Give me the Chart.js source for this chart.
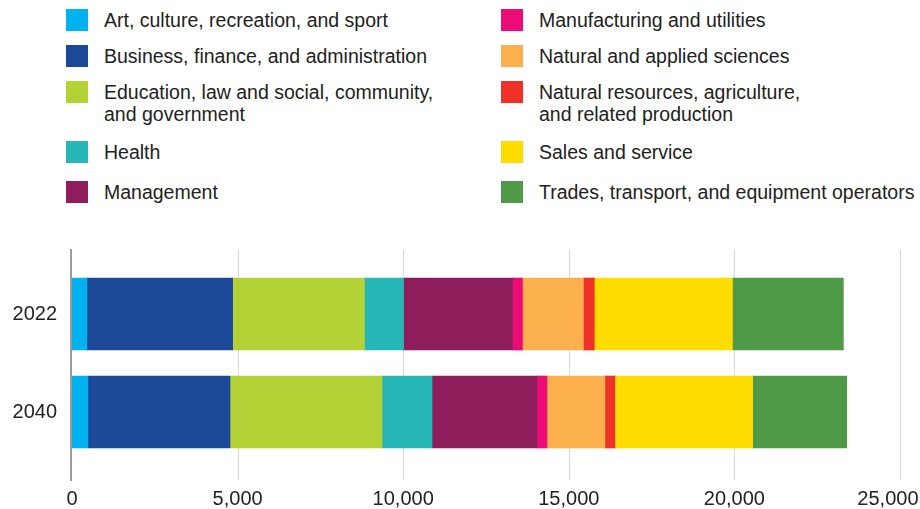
<!DOCTYPE html>
<html>
<head>
<meta charset="utf-8">
<script src="https://cdn.jsdelivr.net/npm/chart.js@4/dist/chart.umd.min.js"></script>
<style>
  html, body { margin: 0; padding: 0; background: #fff; overflow: hidden; }
  body { width: 920px; height: 509px; position: relative; font-family: 'Liberation Sans', Arial, sans-serif; color: #222; }
  #legend {
    position: absolute; left: 66px; top: 9px;
    display: grid;
    grid-auto-flow: column;
    grid-template-columns: 435px auto;
    grid-template-rows: 36px 36px 60px 40px 30px;
  }
  .item { display: flex; align-items: flex-start; }
  .swatch { width: 22px; height: 22px; flex: none; margin-right: 16px; }
  .txt { font-size: 19.5px; line-height: 22px; white-space: pre-line; }
  #chart { position: absolute; left: 0; top: 230px; display: block; }
</style>
</head>
<body>
<div id="legend"></div>
<canvas id="chart" width="920" height="279" style="width:920px;height:279px"></canvas>
<script>
// Datos (trabajadores por grupo ocupacional)
const years = ['2022', '2040'];
const occupations = [
  'Art, culture, recreation, and sport',
  'Business, finance, and administration',
  'Education, law and social, community,\nand government',
  'Health',
  'Management',
  'Manufacturing and utilities',
  'Natural and applied sciences',
  'Natural resources, agriculture,\nand related production',
  'Sales and service',
  'Trades, transport, and equipment operators'
];
const values2022 = [450, 4400, 3980, 1180, 3290, 300, 1840, 330, 4170, 3350];
const values2040 = [480, 4290, 4590, 1510, 3170, 300, 1750, 300, 4160, 2840];
const colors = ['#00b2ef', '#1b4897', '#b3d235', '#27b6b6', '#8e1e5b',
                '#eb0c78', '#fbaf4d', '#ef3228', '#ffdc00', '#4f9a47'];
const xTicks = [0, 5000, 10000, 15000, 20000, 25000];

// Leyenda en HTML: dos columnas, cinco filas
const legend = document.getElementById('legend');
occupations.forEach((name, i) => {
  const item = document.createElement('div');
  item.className = 'item';
  item.innerHTML = `<span class="swatch" style="background:${colors[i]}"></span><span class="txt"></span>`;
  item.querySelector('.txt').textContent = name;
  legend.appendChild(item);
});

const FONT = "'Liberation Sans', Arial, sans-serif";

// Cuadrícula alta, línea del eje y etiquetas del eje x (la última se ajusta al borde)
const tallGrid = {
  id: 'tallGrid',
  beforeDatasetsDraw(chart) {
    const { ctx, chartArea, scales: { x } } = chart;
    const top = chartArea.top - 15, bottom = chartArea.bottom + 19;
    ctx.save();
    ctx.strokeStyle = '#d9d9d9';
    ctx.lineWidth = 1;
    x.ticks.forEach(t => {
      if (t.value === 0) return;
      const px = Math.round(x.getPixelForValue(t.value)) + 0.5;
      ctx.beginPath(); ctx.moveTo(px, top); ctx.lineTo(px, bottom); ctx.stroke();
    });
    ctx.restore();
  },
  afterDatasetsDraw(chart) {
    const { ctx, chartArea, scales: { x }, width } = chart;
    const px = x.getPixelForValue(0) - 1;
    ctx.save();
    ctx.strokeStyle = '#9b9b9e';
    ctx.lineWidth = 2;
    ctx.beginPath();
    ctx.moveTo(px, chartArea.top - 16);
    ctx.lineTo(px, chartArea.bottom + 20);
    ctx.stroke();

    ctx.fillStyle = '#222';
    ctx.font = '20px ' + FONT;
    ctx.textBaseline = 'middle';
    ctx.textAlign = 'left';
    x.ticks.forEach(t => {
      const label = t.value.toLocaleString('en-US');
      const w = ctx.measureText(label).width;
      let lx = x.getPixelForValue(t.value) - w / 2;
      lx = Math.min(Math.max(lx, 0), width - 1.5 - w);
      ctx.fillText(label, lx, chartArea.bottom + 38);
    });
    ctx.restore();
  }
};

Chart.defaults.font.family = FONT;
Chart.defaults.color = '#222';

new Chart(document.getElementById('chart'), {
  type: 'bar',
  data: {
    labels: years,
    datasets: occupations.map((name, i) => ({
      label: name.replace('\n', ' '),
      data: [values2022[i], values2040[i]],
      backgroundColor: colors[i],
      borderWidth: 0,
      barThickness: 72
    }))
  },
  options: {
    indexAxis: 'y',
    responsive: false,
    animation: false,
    layout: { padding: { top: 35, bottom: 0, left: 0, right: 20 } },
    plugins: { legend: { display: false }, tooltip: { enabled: false } },
    scales: {
      x: {
        stacked: true,
        min: 0, max: 25000,
        afterBuildTicks: s => { s.ticks = xTicks.map(v => ({ value: v })); },
        afterFit: s => { s.height = 48; s.paddingLeft = 0; s.paddingRight = 0; },
        ticks: { display: false },
        grid: { display: false, drawTicks: false },
        border: { display: false }
      },
      y: {
        stacked: true,
        afterFit: s => { s.width = 72; },
        ticks: { font: { size: 20 }, padding: 15 },
        grid: { display: false, drawTicks: false },
        border: { display: false }
      }
    }
  },
  plugins: [tallGrid]
});
</script>
</body>
</html>
